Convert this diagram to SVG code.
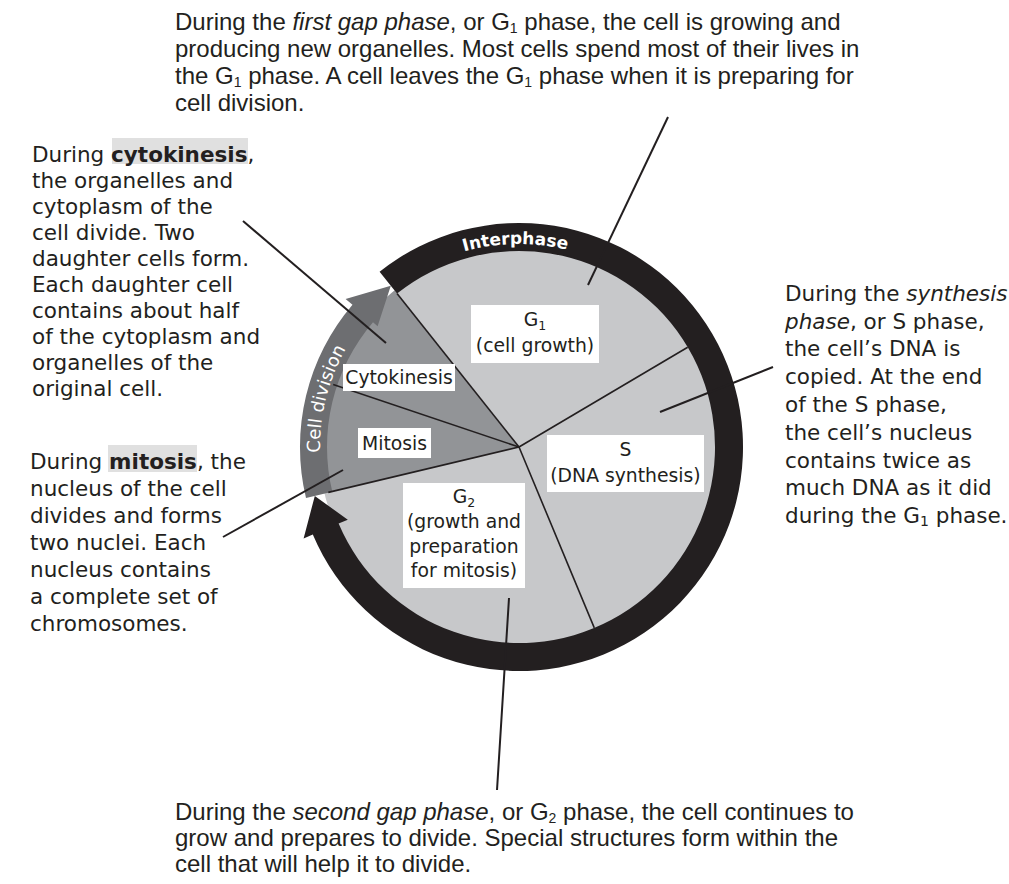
<svg xmlns="http://www.w3.org/2000/svg" width="1009" height="884" viewBox="0 0 1009 884">
<style>
.t{font-family:"DejaVu Sans",sans-serif;font-size:21.5px;fill:#231f20}
.n{font-family:"Liberation Sans",Arial,sans-serif;font-size:24px;fill:#231f20}
.lb{font-family:"DejaVu Sans",sans-serif;font-size:18.8px;fill:#231f20;text-anchor:middle}
.box{fill:#ffffff}
.seg{stroke:#231f20;stroke-width:1.6;fill:none}
.lead{stroke:#231f20;stroke-width:2;fill:none}
.arc{font-family:"DejaVu Sans",sans-serif;fill:#ffffff}
.hl{fill:#e0e0e0}
</style>
<defs>
<path id="pInter" d="M385.8,293.8 A203,203 0 0,1 646.7,289.2"/>
<path id="pDiv" d="M332.0,515.1 A199,199 0 0,1 385.8,299.1"/>
</defs>
<rect width="1009" height="884" fill="#ffffff"/>

<g id="wheel">
<circle cx="519" cy="447" r="200" fill="#c7c8ca"/>
<path d="M519,447 L324.4,493.3 A200,200 0 0,1 394.5,290.5 Z" fill="#929497"/>
</g>

<g id="cell-division">
<path d="M306.0,498.1 A219,219 0 0,1 352.5,304.8 L345.6,298.9 L390.8,285.8 L377.6,326.2 L373.0,322.3 A192,192 0 0,0 332.3,491.8 Z" fill="#6d6e71"/>
<text class="arc" font-size="18"><textPath href="#pDiv" startOffset="50%" text-anchor="middle">Cell division</textPath></text>
</g>

<g id="interphase">
<path d="M379.6,271.7 A224,224 0 1,1 312.8,534.5 L303.6,538.4 L314.8,496.0 L347.8,519.7 L338.6,523.6 A196,196 0 1,0 397.0,293.6 Z" fill="#231f20"/>
<text class="arc" font-size="17" font-weight="bold"><textPath href="#pInter" startOffset="50%" text-anchor="middle">Interphase</textPath></text>
</g>

<g id="connectors">
<line class="seg" x1="519" y1="447" x2="397.0" y2="293.6"/>
<line class="seg" x1="519" y1="447" x2="687.7" y2="347.2"/>
<line class="seg" x1="519" y1="447" x2="594.3" y2="627.9"/>
<line class="seg" x1="519" y1="447" x2="328.3" y2="492.4"/>
<line class="seg" x1="519" y1="447" x2="333.2" y2="384.5"/>
<line class="lead" x1="668" y1="117" x2="588" y2="285"/>
<line class="lead" x1="243" y1="221" x2="386" y2="343"/>
<line class="lead" x1="223" y1="537" x2="343" y2="470"/>
<line class="lead" x1="773" y1="367" x2="660" y2="412"/>
<line class="lead" x1="497" y1="790" x2="509" y2="598"/>
</g>

<g id="g1-label">
<rect class="box" x="471" y="305" width="128" height="58"/>
<text class="lb" x="535" y="326">G<tspan font-size="12.5" dy="4">1</tspan></text>
<text class="lb" x="535" y="352">(cell growth)</text>
</g>
<g id="cytokinesis-label">
<rect class="box" x="343" y="364" width="112" height="27"/>
<text class="lb" x="399" y="384">Cytokinesis</text>
</g>
<g id="mitosis-label">
<rect class="box" x="358" y="428" width="73" height="30"/>
<text class="lb" x="394.5" y="450">Mitosis</text>
</g>
<g id="s-label">
<rect class="box" x="547" y="435" width="157" height="57"/>
<text class="lb" x="625.5" y="456">S</text>
<text class="lb" x="625.5" y="482">(DNA synthesis)</text>
</g>
<g id="g2-label">
<rect class="box" x="403" y="483" width="122" height="105"/>
<text class="lb" x="464" y="503">G<tspan font-size="12.5" dy="4">2</tspan></text>
<text class="lb" x="464" y="528">(growth and</text>
<text class="lb" x="464" y="553">preparation</text>
<text class="lb" x="464" y="577">for mitosis)</text>
</g>

<g id="g1-note">
<text class="n" x="175" y="30">During the <tspan font-style="italic">first gap phase</tspan>, or G<tspan font-size="14" dy="3">1</tspan><tspan dy="-3"> phase, the cell is growing and</tspan></text>
<text class="n" x="175" y="57">producing new organelles. Most cells spend most of their lives in</text>
<text class="n" x="175" y="84">the G<tspan font-size="14" dy="3">1</tspan><tspan dy="-3"> phase. A cell leaves the G</tspan><tspan font-size="14" dy="3">1</tspan><tspan dy="-3"> phase when it is preparing for</tspan></text>
<text class="n" x="175" y="111">cell division.</text>
</g>

<g id="cytokinesis-note">
<rect class="hl" x="112" y="138" width="136" height="26"/>
<text class="t" x="32" y="162">During <tspan font-weight="bold">cytokinesis</tspan>,</text>
<text class="t" x="32" y="188">the organelles and</text>
<text class="t" x="32" y="214">cytoplasm of the</text>
<text class="t" x="32" y="240">cell divide. Two</text>
<text class="t" x="32" y="266">daughter cells form.</text>
<text class="t" x="32" y="292">Each daughter cell</text>
<text class="t" x="32" y="318">contains about half</text>
<text class="t" x="32" y="344">of the cytoplasm and</text>
<text class="t" x="32" y="370">organelles of the</text>
<text class="t" x="32" y="396">original cell.</text>
</g>

<g id="mitosis-note">
<rect class="hl" x="108" y="445" width="89" height="27"/>
<text class="t" x="30" y="469">During <tspan font-weight="bold">mitosis</tspan>, the</text>
<text class="t" x="30" y="496">nucleus of the cell</text>
<text class="t" x="30" y="523">divides and forms</text>
<text class="t" x="30" y="550">two nuclei. Each</text>
<text class="t" x="30" y="577">nucleus contains</text>
<text class="t" x="30" y="604">a complete set of</text>
<text class="t" x="30" y="631">chromosomes.</text>
</g>

<g id="s-note">
<text class="t" x="785" y="301">During the <tspan font-style="italic">synthesis</tspan></text>
<text class="t" x="785" y="329"><tspan font-style="italic">phase</tspan>, or S phase,</text>
<text class="t" x="785" y="356">the cell’s DNA is</text>
<text class="t" x="785" y="384">copied. At the end</text>
<text class="t" x="785" y="412">of the S phase,</text>
<text class="t" x="785" y="440">the cell’s nucleus</text>
<text class="t" x="785" y="468">contains twice as</text>
<text class="t" x="785" y="495">much DNA as it did</text>
<text class="t" x="785" y="523">during the G<tspan font-size="14" dy="3">1</tspan><tspan dy="-3"> phase.</tspan></text>
</g>

<g id="g2-note">
<text class="n" x="175" y="820">During the <tspan font-style="italic">second gap phase</tspan>, or G<tspan font-size="14" dy="3">2</tspan><tspan dy="-3"> phase, the cell continues to</tspan></text>
<text class="n" x="175" y="846">grow and prepares to divide. Special structures form within the</text>
<text class="n" x="175" y="872">cell that will help it to divide.</text>
</g>
</svg>
